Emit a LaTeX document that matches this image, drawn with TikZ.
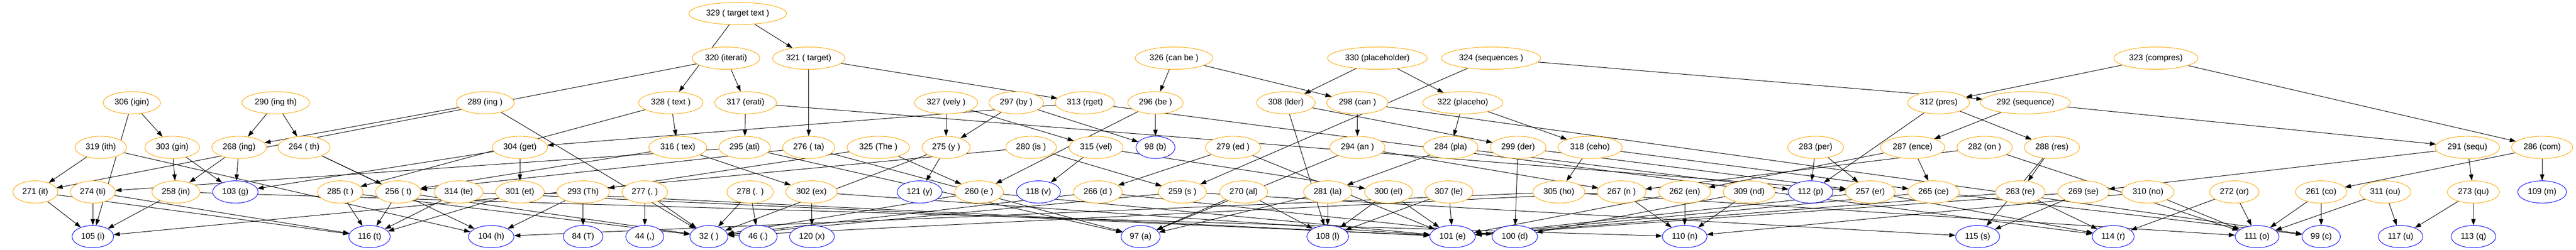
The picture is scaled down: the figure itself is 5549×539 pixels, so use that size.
\documentclass[tikz,border=0pt]{standalone}
\usepackage{fontspec}
\setmainfont{Liberation Sans}
\usetikzlibrary{shapes.geometric,arrows.meta,backgrounds}
\definecolor{gvorange}{HTML}{FFA500}
\tikzset{
    tok/.style={ellipse, draw=gvorange, fill=white, line width=0.8pt,
        inner xsep=4.8pt, inner ysep=1pt, minimum height=36pt, minimum width=61.5pt,
        font=\fontsize{13.4pt}{16pt}\selectfont},
    chr/.style={tok, draw=blue},
    link/.style={-{Triangle[length=10pt,width=7pt]}, line width=0.8pt, black}
}

\begin{document}
\begin{tikzpicture}[x=0.75pt, y=0.75pt]
    \def\ya{509.8}
    \def\yb{413.5}
    \def\yc{317.3}
    \def\yd{221.0}
    \def\ye{124.8}
    \def\yf{28.5}
    \useasboundingbox (0,0) rectangle (5549,539);
    %\draw[help lines] (0,0) grid[step=100] (5549,539);

    \node[tok] (n329) at (1589,\ya) {329 ( target text )}; % top

    \node[tok] (n320) at (1564,\yb) {320 (iterati)};
    \node[tok] (n321) at (1742,\yb) {321 ( target)};
    \node[tok] (n326) at (2529,\yb) {326 (can be )};
    \node[tok] (n330) at (2967,\yb) {330 (placeholder)};
    \node[tok] (n324) at (3212,\yb) {324 (sequences )};
    \node[tok] (n323) at (4644,\yb) {323 (compres)};

    \node[tok] (n306) at (284,\yc) {306 (igin)};
    \node[tok] (n290) at (594,\yc) {290 (ing th)};
    \node[tok] (n289) at (1045,\yc) {289 (ing )};
    \node[tok] (n328) at (1445,\yc) {328 ( text )};
    \node[tok] (n317) at (1606,\yc) {317 (erati)};
    \node[tok] (n327) at (2038,\yc) {327 (vely )};
    \node[tok] (n297) at (2189,\yc) {297 (by )};
    \node[tok] (n313) at (2337,\yc) {313 (rget)};
    \node[tok] (n296) at (2489,\yc) {296 (be )};
    \node[tok] (n308) at (2770,\yc) {308 (lder)};
    \node[tok] (n298) at (2924,\yc) {298 (can )};
    \node[tok] (n322) at (3151,\yc) {322 (placeho)};
    \node[tok] (n312) at (4176,\yc) {312 (pres)};
    \node[tok] (n292) at (4363,\yc) {292 (sequence)};

    \node[tok] (n319) at (217,\yd) {319 (ith)};
    \node[tok] (n303) at (371,\yd) {303 (gin)};
    \node[tok] (n268) at (515,\yd) {268 (ing)};
    \node[tok] (n264) at (655,\yd) {264 ( th)};
    \node[tok] (n304) at (1120,\yd) {304 (get)};
    \node[tok] (n316) at (1460,\yd) {316 ( tex)};
    \node[tok] (n295) at (1604,\yd) {295 (ati)};
    \node[tok] (n276) at (1742,\yd) {276 ( ta)};
    \node[tok] (n325) at (1892,\yd) {325 (The )};
    \node[tok] (n275) at (2038,\yd) {275 (y )};
    \node[tok] (n280) at (2221,\yd) {280 (is )};
    \node[tok] (n315) at (2361,\yd) {315 (vel)};
    \node[chr] (n98) at (2489,\yd) {98 (b)};
    \node[tok] (n279) at (2656,\yd) {279 (ed )};
    \node[tok] (n294) at (2924,\yd) {294 (an )};
    \node[tok] (n284) at (3125,\yd) {284 (pla)};
    \node[tok] (n299) at (3270,\yd) {299 (der)};
    \node[tok] (n318) at (3425,\yd) {318 (ceho)};
    \node[tok] (n283) at (3911,\yd) {283 (per)};
    \node[tok] (n287) at (4120,\yd) {287 (ence)};
    \node[tok] (n282) at (4275,\yd) {282 (on )};
    \node[tok] (n288) at (4420,\yd) {288 (res)};
    \node[tok] (n291) at (5315,\yd) {291 (sequ)};
    \node[tok] (n286) at (5476,\yd) {286 (com)};

    \node[tok] (n271) at (76,\ye) {271 (it)};
    \node[tok] (n274) at (200,\ye) {274 (ti)};
    \node[tok] (n258) at (379,\ye) {258 (in)};
    \node[chr] (n103) at (507,\ye) {103 (g)};
    \node[tok] (n285) at (733,\ye) {285 (t )};
    \node[tok] (n256) at (858,\ye) {256 ( t)};
    \node[tok] (n314) at (988,\ye) {314 (te)};
    \node[tok] (n301) at (1120,\ye) {301 (et)};
    \node[tok] (n293) at (1256,\ye) {293 (Th)};
    \node[tok] (n277) at (1389,\ye) {277 (, )};
    \node[tok] (n278) at (1616,\ye) {278 (. )};
    \node[tok] (n302) at (1748,\ye) {302 (ex)};
    \node[chr] (n121) at (1981,\ye) {121 (y)};
    \node[tok] (n260) at (2109,\ye) {260 (e )};
    \node[chr] (n118) at (2237,\ye) {118 (v)};
    \node[tok] (n266) at (2365,\ye) {266 (d )};
    \node[tok] (n259) at (2547,\ye) {259 (s )};
    \node[tok] (n270) at (2679,\ye) {270 (al)};
    \node[tok] (n281) at (2860,\ye) {281 (la)};
    \node[tok] (n300) at (2991,\ye) {300 (el)};
    \node[tok] (n307) at (3121,\ye) {307 (le)};
    \node[tok] (n305) at (3358,\ye) {305 (ho)};
    \node[tok] (n267) at (3493,\ye) {267 (n )};
    \node[tok] (n262) at (3629,\ye) {262 (en)};
    \node[tok] (n309) at (3768,\ye) {309 (nd)};
    \node[chr] (n112) at (3900,\ye) {112 (p)};
    \node[tok] (n257) at (4029,\ye) {257 (er)};
    \node[tok] (n265) at (4165,\ye) {265 (ce)};
    \node[tok] (n263) at (4352,\ye) {263 (re)};
    \node[tok] (n269) at (4488,\ye) {269 (se)};
    \node[tok] (n310) at (4627,\ye) {310 (no)};
    \node[tok] (n272) at (4813,\ye) {272 (or)};
    \node[tok] (n261) at (5000,\ye) {261 (co)};
    \node[tok] (n311) at (5138,\ye) {311 (ou)};
    \node[tok] (n273) at (5328,\ye) {273 (qu)};
    \node[chr] (n109) at (5476,\ye) {109 (m)};

    \node[chr] (n105) at (200,\yf) {105 (i)}; % bytes
    \node[chr] (n116) at (796,\yf) {116 (t)};
    \node[chr] (n104) at (1058,\yf) {104 (h)};
    \node[chr] (n84) at (1256,\yf) {84 (T)};
    \node[chr] (n44) at (1389,\yf) {44 (,)};
    \node[chr] (n32) at (1527,\yf) {32 ( )};
    \node[chr] (n46) at (1633,\yf) {46 (.)};
    \node[chr] (n120) at (1749,\yf) {120 (x)};
    \node[chr] (n97) at (2457,\yf) {97 (a)};
    \node[chr] (n108) at (2860,\yf) {108 (l)};
    \node[chr] (n101) at (3129,\yf) {101 (e)};
    \node[chr] (n100) at (3263,\yf) {100 (d)};
    \node[chr] (n110) at (3629,\yf) {110 (n)};
    \node[chr] (n115) at (4260,\yf) {115 (s)};
    \node[chr] (n114) at (4552,\yf) {114 (r)};
    \node[chr] (n111) at (4862,\yf) {111 (o)};
    \node[chr] (n99) at (5000,\yf) {99 (c)};
    \node[chr] (n117) at (5171,\yf) {117 (u)};
    \node[chr] (n113) at (5328,\yf) {113 (q)};

    \begin{pgfonlayer}{background}
    \foreach \p/\l/\r in {256/32/116, 257/101/114, 258/105/110, 259/115/32,
        260/101/32, 261/99/111, 262/101/110, 263/114/101, 264/256/104,
        265/99/101, 266/100/32, 267/110/32, 268/258/103, 269/115/101,
        270/97/108, 271/105/116, 272/111/114, 273/113/117, 274/116/105,
        275/121/32, 276/256/97, 277/44/32, 278/46/32, 279/101/266,
        280/105/259, 281/108/97, 282/111/267, 283/112/257, 284/112/281,
        285/116/32, 286/261/109, 287/262/265, 288/263/115, 289/268/32,
        290/268/264, 291/269/273, 292/291/287, 293/84/104, 294/97/267,
        295/97/274, 296/98/260, 297/98/275, 298/99/294, 299/100/257,
        300/101/108, 301/101/116, 302/101/120, 303/103/258, 304/103/301,
        305/104/111, 306/105/303, 307/108/101, 308/108/299, 309/110/100,
        310/110/111, 311/111/117, 312/112/288, 313/114/304, 314/116/101,
        315/118/300, 316/256/302, 317/257/295, 318/265/305, 319/271/104,
        320/271/317, 321/276/313, 322/284/318, 323/286/312, 324/292/259,
        325/293/260, 326/298/296, 327/315/275, 328/316/285, 329/321/328,
        330/322/308} % merges
    {
        \draw[link] (n\p) -- (n\l);
        \draw[link] (n\p) -- (n\r);
    }
    \end{pgfonlayer}

\end{tikzpicture}
\end{document}
